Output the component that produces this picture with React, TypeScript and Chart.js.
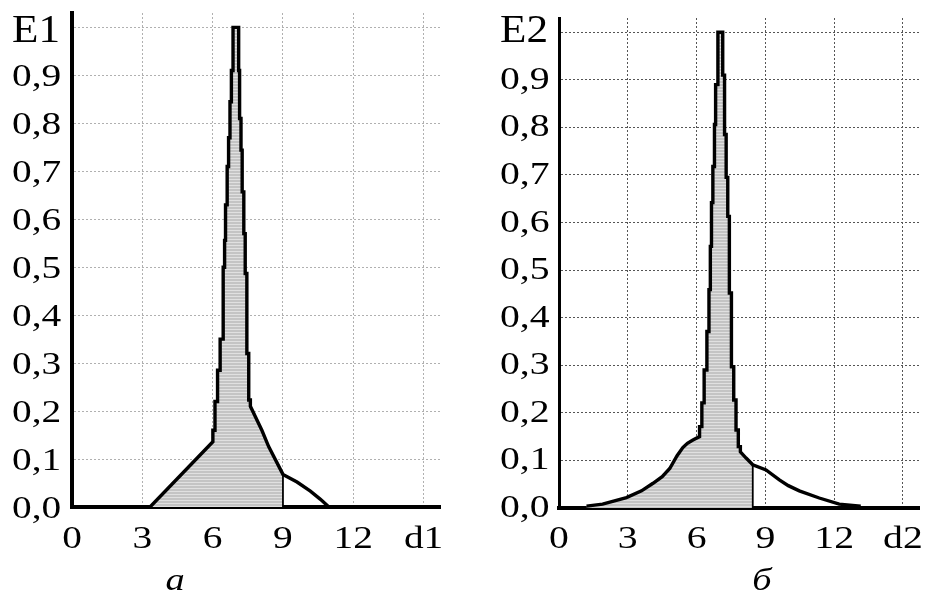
import React, { useEffect, useRef } from "react";
import { Chart, registerables } from "chart.js";

Chart.register(...registerables);

// ---- data ----
const X_TICKS = [0, 3, 6, 9, 12, 15];
const Y_TICKS = [0, 0.1, 0.2, 0.3, 0.4, 0.5, 0.6, 0.7, 0.8, 0.9, 1.0];

const X_LABELS_1 = ["0", "3", "6", "9", "12", "d1"];
const Y_LABELS_1 = ["0,0", "0,1", "0,2", "0,3", "0,4", "0,5", "0,6", "0,7", "0,8", "0,9", "E1"];
const X_LABELS_2 = ["0", "3", "6", "9", "12", "d2"];
const Y_LABELS_2 = ["0,0", "0,1", "0,2", "0,3", "0,4", "0,5", "0,6", "0,7", "0,8", "0,9", "E2"];

// Panel a: E1(d1)
const E1_X = [0, 3.33, 6.01, 6.01, 6.1, 6.1, 6.21, 6.21, 6.32, 6.32, 6.45, 6.45, 6.51, 6.51, 6.55, 6.55, 6.62, 6.62, 6.68, 6.68, 6.74, 6.74, 6.8, 6.8, 6.87, 6.87, 7.11, 7.11, 7.15, 7.15, 7.21, 7.21, 7.26, 7.26, 7.33, 7.33, 7.39, 7.39, 7.46, 7.46, 7.54, 7.54, 7.61, 7.61, 8.1, 8.39, 9.0, 9.6, 10.17, 10.6, 10.96];
const E1_Y = [0, 0, 0.136, 0.16, 0.16, 0.22, 0.22, 0.285, 0.285, 0.35, 0.35, 0.5, 0.5, 0.556, 0.556, 0.63, 0.63, 0.71, 0.71, 0.77, 0.77, 0.845, 0.845, 0.91, 0.91, 1.0, 1.0, 0.91, 0.91, 0.81, 0.81, 0.744, 0.744, 0.657, 0.657, 0.57, 0.57, 0.487, 0.487, 0.32, 0.32, 0.223, 0.223, 0.21, 0.16, 0.126, 0.068, 0.052, 0.033, 0.016, 0];
const E1_CUT = 9.0;

// Panel б: E2(d2)
const E2_X = [1.2, 1.9, 2.94, 3.6, 4.1, 4.5, 4.83, 5.15, 5.4, 5.6, 5.84, 6.13, 6.13, 6.23, 6.23, 6.33, 6.33, 6.45, 6.45, 6.54, 6.54, 6.6, 6.6, 6.65, 6.65, 6.71, 6.71, 6.78, 6.78, 6.83, 6.83, 6.93, 6.93, 7.14, 7.14, 7.22, 7.22, 7.29, 7.29, 7.36, 7.36, 7.43, 7.43, 7.52, 7.52, 7.62, 7.62, 7.72, 7.72, 7.82, 7.82, 7.91, 7.91, 8.16, 8.45, 9.03, 9.61, 10.0, 10.48, 11.35, 12.22, 13.16];
const E2_Y = [0.004, 0.008, 0.022, 0.036, 0.052, 0.066, 0.083, 0.11, 0.127, 0.136, 0.143, 0.15, 0.171, 0.171, 0.221, 0.221, 0.29, 0.29, 0.371, 0.371, 0.459, 0.459, 0.55, 0.55, 0.642, 0.642, 0.718, 0.718, 0.806, 0.806, 0.89, 0.89, 1.0, 1.0, 0.91, 0.91, 0.785, 0.785, 0.695, 0.695, 0.613, 0.613, 0.452, 0.452, 0.297, 0.297, 0.227, 0.227, 0.164, 0.164, 0.129, 0.129, 0.118, 0.105, 0.091, 0.08, 0.059, 0.047, 0.036, 0.021, 0.008, 0.004];
const E2_CUT = 8.45;

const X_MAX = 15.7;
const Y_MAX = 1.03;

const FONT = "'Liberation Serif', 'Times New Roman', serif";

function makePattern(): CanvasPattern | string {
  const c = document.createElement("canvas");
  c.width = 4;
  c.height = 3;
  const g = c.getContext("2d");
  if (!g) return "#d0d0d0";
  g.fillStyle = "#c4c4c4";
  g.fillRect(0, 0, 4, 3);
  g.fillStyle = "#e0e0e0";
  g.fillRect(0, 2, 4, 1);
  return g.createPattern(c, "repeat") || "#d0d0d0";
}

interface Spec {
  xs: number[];
  ys: number[];
  cut: number;
  xLabels: string[];
  yLabels: string[];
  width: number;
  height: number;
  padLeft: number;
  padRight: number;
  padTop: number;
  yAxisWidth: number;
  xAxisHeight: number;
  gridColor: string;
  yBorder: number;
  xBorder: number;
  labelLeft: number;
  digitSize: number;
  stretch: number;
  yBaseOffset: number;
  xBaseline: number;
  eSize: number;
  eStretch: number;
  eBaseline: number;
}

function drawStretched(
  ctx: CanvasRenderingContext2D,
  text: string,
  x: number,
  y: number,
  size: number,
  stretch: number,
  align: CanvasTextAlign
) {
  ctx.save();
  ctx.translate(x, y);
  ctx.scale(stretch, 1);
  ctx.font = `${size}px ${FONT}`;
  ctx.textAlign = align;
  ctx.textBaseline = "alphabetic";
  ctx.fillStyle = "#000";
  ctx.fillText(text, 0, 0);
  ctx.restore();
}

function buildChart(canvas: HTMLCanvasElement, s: Spec) {
  const pts = s.xs.map((x, i) => ({ x, y: s.ys[i] }));
  const cutIdx = s.xs.findIndex((x) => x >= s.cut);
  const fillPts = pts.slice(0, cutIdx + 1);
  const cutY = s.ys[cutIdx];
  const zeroPad = (scale: any) => {
    scale.paddingTop = 0;
    scale.paddingBottom = 0;
    scale.paddingLeft = 0;
    scale.paddingRight = 0;
  };
  const labelPlugin = {
    id: "stretchedTickLabels",
    afterDraw(chart: any) {
      const ctx: CanvasRenderingContext2D = chart.ctx;
      const xs = chart.scales.x;
      const ys = chart.scales.y;
      xs.ticks.forEach((t: any, i: number) => {
        const px = xs.getPixelForValue(t.value);
        drawStretched(ctx, s.xLabels[i], px, s.xBaseline, s.digitSize, s.stretch, "center");
      });
      ys.ticks.forEach((t: any, i: number) => {
        const py = ys.getPixelForValue(t.value);
        const last = i === ys.ticks.length - 1;
        if (last) {
          drawStretched(ctx, s.yLabels[i], s.labelLeft, s.eBaseline, s.eSize, s.eStretch, "left");
        } else {
          drawStretched(ctx, s.yLabels[i], s.labelLeft, py + s.yBaseOffset, s.digitSize, s.stretch, "left");
        }
      });
    },
  };
  return new Chart(canvas, {
    type: "line",
    data: {
      datasets: [
        {
          data: fillPts,
          borderWidth: 0,
          pointRadius: 0,
          fill: "origin",
          backgroundColor: makePattern() as any,
          order: 3,
        },
        {
          data: [
            { x: s.cut, y: 0 },
            { x: s.cut, y: cutY },
          ],
          borderColor: "#000",
          borderWidth: 1.8,
          pointRadius: 0,
          fill: false,
          order: 2,
        },
        {
          data: pts,
          borderColor: "#000",
          borderWidth: 3.4,
          pointRadius: 0,
          fill: false,
          tension: 0,
          borderJoinStyle: "miter",
          order: 1,
        },
      ],
    },
    plugins: [labelPlugin],
    options: {
      responsive: false,
      animation: false,
      events: [],
      layout: {
        padding: { left: s.padLeft, right: s.padRight, top: s.padTop, bottom: 0 },
      },
      plugins: { legend: { display: false }, tooltip: { enabled: false }, title: { display: false } },
      scales: {
        x: {
          type: "linear",
          min: 0,
          max: X_MAX,
          bounds: "data",
          afterBuildTicks: (scale: any) => {
            scale.ticks = X_TICKS.map((v) => ({ value: v }));
          },
          afterFit: (scale: any) => {
            scale.height = s.xAxisHeight;
            zeroPad(scale);
          },
          grid: { color: s.gridColor, lineWidth: 1, drawTicks: false },
          border: { display: true, color: "#000", width: s.xBorder, dash: [2, 2] },
          ticks: { display: false, autoSkip: false },
        },
        y: {
          type: "linear",
          min: 0,
          max: Y_MAX,
          bounds: "data",
          afterBuildTicks: (scale: any) => {
            scale.ticks = Y_TICKS.map((v) => ({ value: v }));
          },
          afterFit: (scale: any) => {
            scale.width = s.yAxisWidth;
            zeroPad(scale);
          },
          grid: { color: s.gridColor, lineWidth: 1, drawTicks: false },
          border: { display: true, color: "#000", width: s.yBorder, dash: [2, 2] },
          ticks: { display: false, autoSkip: false },
        },
      },
    },
  });
}

const SPEC_A: Spec = {
  xs: E1_X,
  ys: E1_Y,
  cut: E1_CUT,
  xLabels: X_LABELS_1,
  yLabels: Y_LABELS_1,
  width: 460,
  height: 591,
  padLeft: 13,
  padRight: 20,
  padTop: 13,
  yAxisWidth: 59,
  xAxisHeight: 84,
  gridColor: "#b0b0b0",
  yBorder: 4,
  xBorder: 4,
  labelLeft: 12,
  digitSize: 31,
  stretch: 1.27,
  yBaseOffset: 11,
  xBaseline: 548,
  eSize: 40,
  eStretch: 1.08,
  eBaseline: 42,
};

const SPEC_B: Spec = {
  xs: E2_X,
  ys: E2_Y,
  cut: E2_CUT,
  xLabels: X_LABELS_2,
  yLabels: Y_LABELS_2,
  width: 469,
  height: 591,
  padLeft: 41,
  padRight: 10,
  padTop: 18,
  yAxisWidth: 58,
  xAxisHeight: 83,
  gridColor: "#555555",
  yBorder: 3,
  xBorder: 4,
  labelLeft: 40,
  digitSize: 32,
  stretch: 1.24,
  yBaseOffset: 9,
  xBaseline: 548,
  eSize: 40,
  eStretch: 1.08,
  eBaseline: 42,
};

function Panel({ spec, left }: { spec: Spec; left: number }) {
  const ref = useRef<HTMLCanvasElement | null>(null);
  useEffect(() => {
    if (!ref.current) return;
    const ch = buildChart(ref.current, spec);
    return () => ch.destroy();
  }, [spec]);
  return (
    <canvas
      ref={ref}
      width={spec.width}
      height={spec.height}
      style={{ position: "absolute", left, top: 0, width: spec.width, height: spec.height }}
    />
  );
}

const captionStyle: React.CSSProperties = {
  position: "absolute",
  top: 563,
  width: 60,
  textAlign: "center",
  fontFamily: FONT,
  fontStyle: "italic",
  fontSize: 32,
  lineHeight: "32px",
  color: "#000",
  transform: "scaleX(1.2)",
};

export default function App() {
  return (
    <div
      style={{
        position: "absolute",
        left: 0,
        top: 0,
        width: 929,
        height: 591,
        background: "#fff",
        overflow: "hidden",
      }}
    >
      <Panel spec={SPEC_A} left={0} />
      <Panel spec={SPEC_B} left={460} />
      <div style={{ ...captionStyle, left: 175 - 30 }}>a</div>
      <div style={{ ...captionStyle, left: 762 - 30 }}>б</div>
    </div>
  );
}
